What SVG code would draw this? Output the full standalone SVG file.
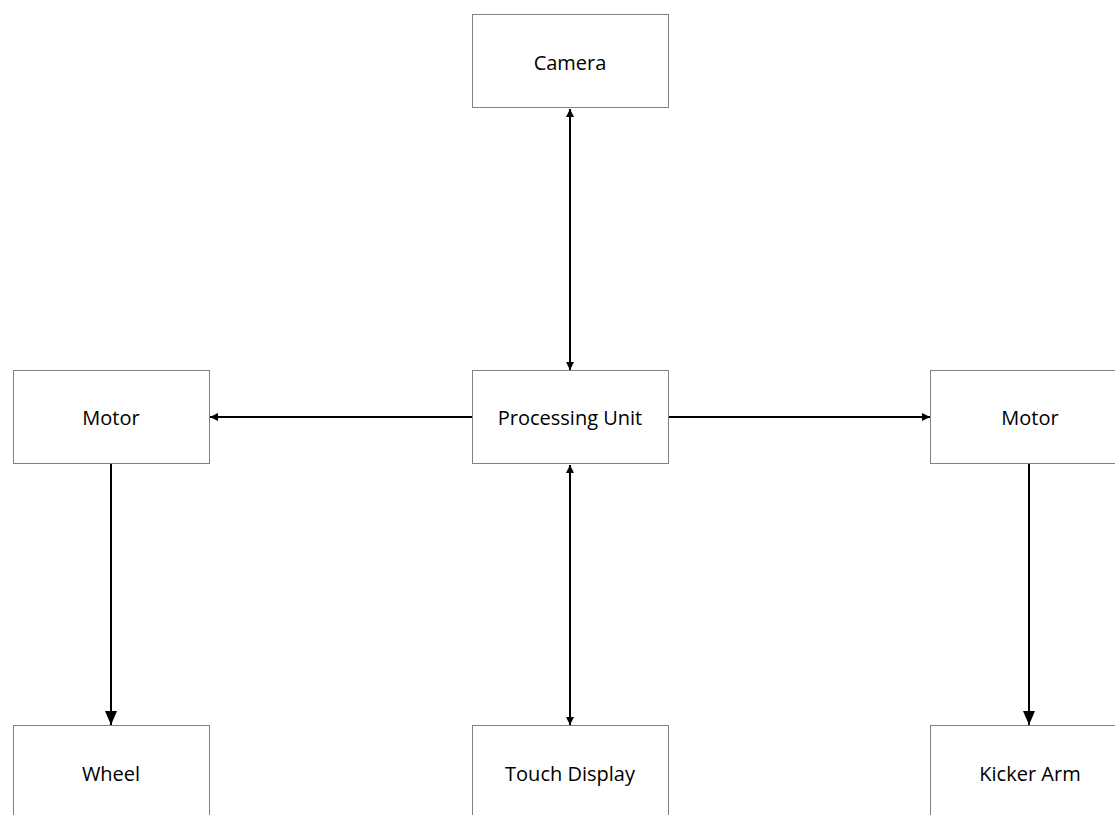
<svg xmlns="http://www.w3.org/2000/svg" width="1115" height="815" viewBox="0 0 1115 815">
<style>
.box{fill:#fff;stroke:#808080;stroke-width:1}
.lbl{font-family:"Open Sans","Noto Sans",sans-serif;font-size:20px;fill:#000;text-anchor:middle;dominant-baseline:central}
.ln{stroke:#000;stroke-width:2;fill:none}
</style>
<defs>
<marker id="s" viewBox="0 0 8 8" refX="8" refY="4" markerWidth="8" markerHeight="8" markerUnits="userSpaceOnUse" orient="auto-start-reverse"><path d="M0,0L8,4L0,8z" fill="#000"/></marker>
<marker id="b" viewBox="0 0 14 12" refX="14" refY="6" markerWidth="14" markerHeight="12" markerUnits="userSpaceOnUse" orient="auto"><path d="M0,0L14,6L0,12z" fill="#000"/></marker>
</defs>
<rect width="1115" height="815" fill="#fff"/>
<g id="connectors">
<line class="ln" x1="570" y1="109" x2="570" y2="370" marker-start="url(#s)" marker-end="url(#s)"/>
<line class="ln" x1="472" y1="417" x2="210" y2="417" marker-end="url(#s)"/>
<line class="ln" x1="668" y1="417" x2="930" y2="417" marker-end="url(#s)"/>
<line class="ln" x1="570" y1="465" x2="570" y2="725" marker-start="url(#s)" marker-end="url(#s)"/>
<line class="ln" x1="111" y1="464" x2="111" y2="725" marker-end="url(#b)"/>
<line class="ln" x1="1029" y1="464" x2="1029" y2="725" marker-end="url(#b)"/>
</g>
<g id="camera"><rect class="box" x="472.5" y="14.5" width="196" height="93"/><text class="lbl" x="570" y="62">Camera</text></g>
<g id="motor-left"><rect class="box" x="13.5" y="370.5" width="196" height="93"/><text class="lbl" x="111" y="417">Motor</text></g>
<g id="processing-unit"><rect class="box" x="472.5" y="370.5" width="196" height="93"/><text class="lbl" x="570" y="417">Processing Unit</text></g>
<g id="motor-right"><rect class="box" x="930.5" y="370.5" width="196" height="93"/><text class="lbl" x="1030" y="417">Motor</text></g>
<g id="wheel"><rect class="box" x="13.5" y="725.5" width="196" height="93"/><text class="lbl" x="111" y="773">Wheel</text></g>
<g id="touch-display"><rect class="box" x="472.5" y="725.5" width="196" height="93"/><text class="lbl" x="570" y="773">Touch Display</text></g>
<g id="kicker-arm"><rect class="box" x="930.5" y="725.5" width="196" height="93"/><text class="lbl" x="1030" y="773">Kicker Arm</text></g>
</svg>
